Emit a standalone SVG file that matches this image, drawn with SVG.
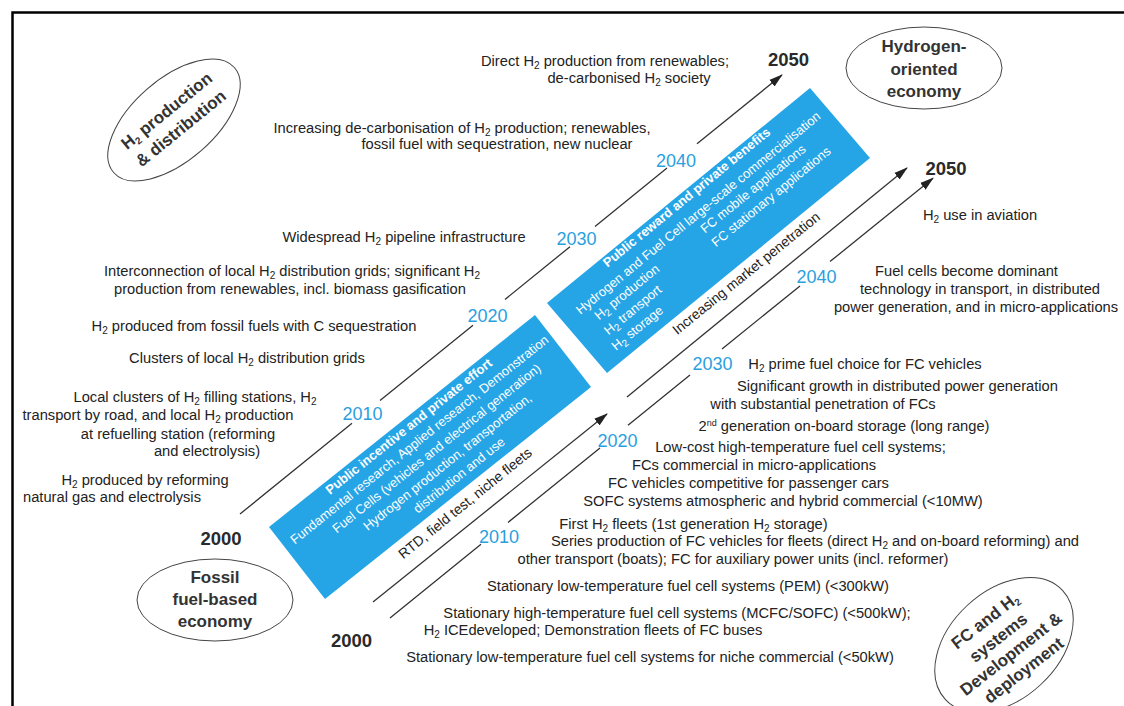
<svg xmlns="http://www.w3.org/2000/svg" width="1124" height="706" viewBox="0 0 1124 706">
<defs>
<marker id="ah" viewBox="0 0 14 10" refX="13" refY="5" markerWidth="14" markerHeight="10" markerUnits="userSpaceOnUse" orient="auto"><path d="M0,0.8 L14,5 L0,9.2 Z" fill="#222"/></marker>
<style>
.t{font-family:"Liberation Sans",Arial,sans-serif;font-size:14.7px;fill:#222;text-anchor:middle}
.s{font-size:10px;baseline-shift:-2.5px}
.sup{font-size:9px;baseline-shift:5px}
.yb{font-family:"Liberation Sans",Arial,sans-serif;font-size:18px;fill:#2a9fe0;text-anchor:middle}
.yk{font-family:"Liberation Sans",Arial,sans-serif;font-size:18.5px;font-weight:bold;fill:#2a2a2a;text-anchor:middle}
.bx{fill:#26a5e6}
.w{font-family:"Liberation Sans",Arial,sans-serif;font-size:13px;fill:#fff}
.wm{text-anchor:middle}
.wb{font-weight:bold}
.el{fill:none;stroke:#444;stroke-width:1}
.et{font-family:"Liberation Sans",Arial,sans-serif;font-size:17px;font-weight:bold;fill:#333;text-anchor:middle}
.ln{fill:none;stroke:#333;stroke-width:1.3}
.rt{font-family:"Liberation Sans",Arial,sans-serif;font-size:14px;fill:#222;text-anchor:middle}
</style>
</defs>
<rect width="1124" height="706" fill="#fff"/>
<path d="M12.5,706 V12.5 H1124" fill="none" stroke="#000" stroke-width="2.5"/>

<g id="connectors">
<path class="ln" d="M240,514 L352,423.3 M380,400.6 L473,325.3 M505,299.4 L570,246.7 M595,226.4 L667,168.1"/>
<path class="ln" d="M697,143.8 L782,75" marker-end="url(#ah)"/>
<path class="ln" d="M373,602 L607,414" marker-end="url(#ah)"/>
<path class="ln" d="M627,397 L907,168" marker-end="url(#ah)"/>
<path class="ln" d="M390,618 L481,544.3 M508,522.4 L600,447.9 M628,425.2 L690,375 M722,349 L800,285.9"/>
<path class="ln" d="M830,261.6 L933,178.2" marker-end="url(#ah)"/>
</g>

<g id="ellipse-h2-production">
<ellipse class="el" cx="174" cy="120" rx="80" ry="41" transform="rotate(-41 174 120)"/>
<g transform="translate(174,120) rotate(-39)">
<text class="et" x="0" y="-6">H<tspan class="s">2</tspan> production</text>
<text class="et" x="0" y="16.5">&amp; distribution</text>
</g>
</g>

<g id="ellipse-hydrogen-economy">
<ellipse class="el" cx="924" cy="68" rx="78" ry="41"/>
<text class="et" x="924" y="52">Hydrogen-</text>
<text class="et" x="924" y="75">oriented</text>
<text class="et" x="924" y="97">economy</text>
</g>

<g id="ellipse-fossil-economy">
<ellipse class="el" cx="215" cy="600" rx="78" ry="41"/>
<text class="et" x="215" y="583">Fossil</text>
<text class="et" x="215" y="605">fuel-based</text>
<text class="et" x="215" y="627">economy</text>
</g>

<g id="ellipse-fc-systems">
<ellipse class="el" cx="1004" cy="645" rx="80" ry="54" transform="rotate(-43 1004 645)"/>
<g transform="translate(1004,645) rotate(-38)">
<text class="et" x="0" y="-25">FC and H<tspan class="s">2</tspan></text>
<text class="et" x="0" y="-3.5">systems</text>
<text class="et" x="0" y="17">Development &amp;</text>
<text class="et" x="0" y="38">deployment</text>
</g>
</g>

<g id="box-public-incentive">
<polygon class="bx" points="269,527 535,315 591,387 325,599"/>
<g transform="translate(269,527) rotate(-38.6)">
<text class="w wm wb" x="172" y="13">Public incentive and private effort</text>
<text class="w wm" x="172" y="30">Fundamental research, Applied research, Demonstration</text>
<text class="w wm" x="180" y="47.5">Fuel Cells (vehicles and electrical generation)</text>
<text class="w wm" x="180" y="65">Hydrogen production, transportation,</text>
<text class="w wm" x="181" y="82.5">distribution and use</text>
</g>
</g>

<g id="box-public-reward">
<polygon class="bx" points="547,303 810,88 870,158 607,373"/>
<g transform="translate(547,303) rotate(-39.3)">
<text class="w wm wb" x="175" y="11">Public reward and private benefits</text>
<text class="w wm" x="174" y="30.5">Hydrogen and Fuel Cell large-scale commercialisation</text>
<text class="w" x="29" y="46.5">H<tspan class="s">2</tspan> production</text>
<text class="w" x="166" y="46.5">FC mobile applications</text>
<text class="w" x="27" y="64">H<tspan class="s">2</tspan> transport</text>
<text class="w" x="166" y="64">FC stationary  applications</text>
<text class="w" x="23" y="81">H<tspan class="s">2</tspan> storage</text>
</g>
</g>

<g id="axis-labels">
<text class="rt" transform="translate(465,503) rotate(-39)" y="5">RTD,  field test, niche fleets</text>
<text class="rt" transform="translate(746,273) rotate(-39)" y="5">Increasing market penetration</text>
</g>

<g id="years">
<text class="yk" x="221" y="545">2000</text>
<text class="yk" x="351.5" y="647">2000</text>
<text class="yk" x="788.5" y="66">2050</text>
<text class="yk" x="946" y="175">2050</text>
<text class="yb" x="362.5" y="420">2010</text>
<text class="yb" x="487.5" y="322">2020</text>
<text class="yb" x="576.5" y="245">2030</text>
<text class="yb" x="676" y="167">2040</text>
<text class="yb" x="499" y="543">2010</text>
<text class="yb" x="617.5" y="447">2020</text>
<text class="yb" x="712.5" y="370">2030</text>
<text class="yb" x="816.5" y="283">2040</text>
</g>

<g id="h2-production-milestones">
<text class="t" x="605" y="65.5">Direct H<tspan class="s">2</tspan> production from renewables;</text>
<text class="t" x="629" y="83">de-carbonised H<tspan class="s">2</tspan> society</text>
<text class="t" x="462" y="132.5">Increasing de-carbonisation of H<tspan class="s">2</tspan> production; renewables,</text>
<text class="t" x="497" y="149">fossil fuel with sequestration, new nuclear</text>
<text class="t" x="404" y="242">Widespread H<tspan class="s">2</tspan> pipeline infrastructure</text>
<text class="t" x="292" y="275.5">Interconnection of local H<tspan class="s">2</tspan> distribution grids; significant H<tspan class="s">2</tspan></text>
<text class="t" x="290" y="293.5">production from renewables, incl. biomass gasification</text>
<text class="t" x="254" y="330.5">H<tspan class="s">2</tspan> produced from fossil fuels with C sequestration</text>
<text class="t" x="247" y="363">Clusters of local H<tspan class="s">2</tspan> distribution grids</text>
<text class="t" x="195" y="401.5">Local clusters of H<tspan class="s">2</tspan> filling stations, H<tspan class="s">2</tspan></text>
<text class="t" x="158" y="420">transport by road, and local H<tspan class="s">2</tspan> production</text>
<text class="t" x="178" y="438.5">at refuelling station (reforming</text>
<text class="t" x="207" y="456">and electrolysis)</text>
<text class="t" x="145" y="485">H<tspan class="s">2</tspan> produced by reforming</text>
<text class="t" x="112" y="502">natural gas and electrolysis</text>
</g>

<g id="fc-systems-milestones">
<text class="t" x="980" y="220">H<tspan class="s">2</tspan> use in aviation</text>
<text class="t" x="966.5" y="276">Fuel cells become dominant</text>
<text class="t" x="980" y="294">technology in transport, in distributed</text>
<text class="t" x="976" y="311.5">power generation, and in micro-applications</text>
<text class="t" x="865" y="369">H<tspan class="s">2</tspan> prime fuel choice for FC vehicles</text>
<text class="t" x="897.5" y="390.5">Significant growth in distributed power generation</text>
<text class="t" x="823" y="409">with substantial penetration of FCs</text>
<text class="t" x="844" y="430.5">2<tspan class="sup">nd</tspan> generation on-board storage (long range)</text>
<text class="t" x="800.5" y="452">Low-cost high-temperature fuel cell systems;</text>
<text class="t" x="754" y="470">FCs commercial in micro-applications</text>
<text class="t" x="748.5" y="488">FC vehicles competitive for passenger cars</text>
<text class="t" x="783" y="505.5">SOFC systems atmospheric and hybrid commercial (&lt;10MW)</text>
<text class="t" x="693.5" y="528.5">First H<tspan class="s">2</tspan> fleets (1st generation H<tspan class="s">2</tspan> storage)</text>
<text class="t" x="815" y="545.5">Series production of FC vehicles for fleets (direct H<tspan class="s">2</tspan> and on-board reforming) and</text>
<text class="t" x="733" y="563.5">other transport (boats); FC for auxiliary power units (incl. reformer)</text>
<text class="t" x="688" y="590.5">Stationary low-temperature fuel cell systems (PEM) (&lt;300kW)</text>
<text class="t" x="677" y="617.5">Stationary high-temperature fuel cell systems (MCFC/SOFC) (&lt;500kW);</text>
<text class="t" x="593" y="635">H<tspan class="s">2</tspan> ICEdeveloped; Demonstration fleets of FC buses</text>
<text class="t" x="650" y="662">Stationary low-temperature fuel cell systems for niche commercial (&lt;50kW)</text>
</g>
</svg>
